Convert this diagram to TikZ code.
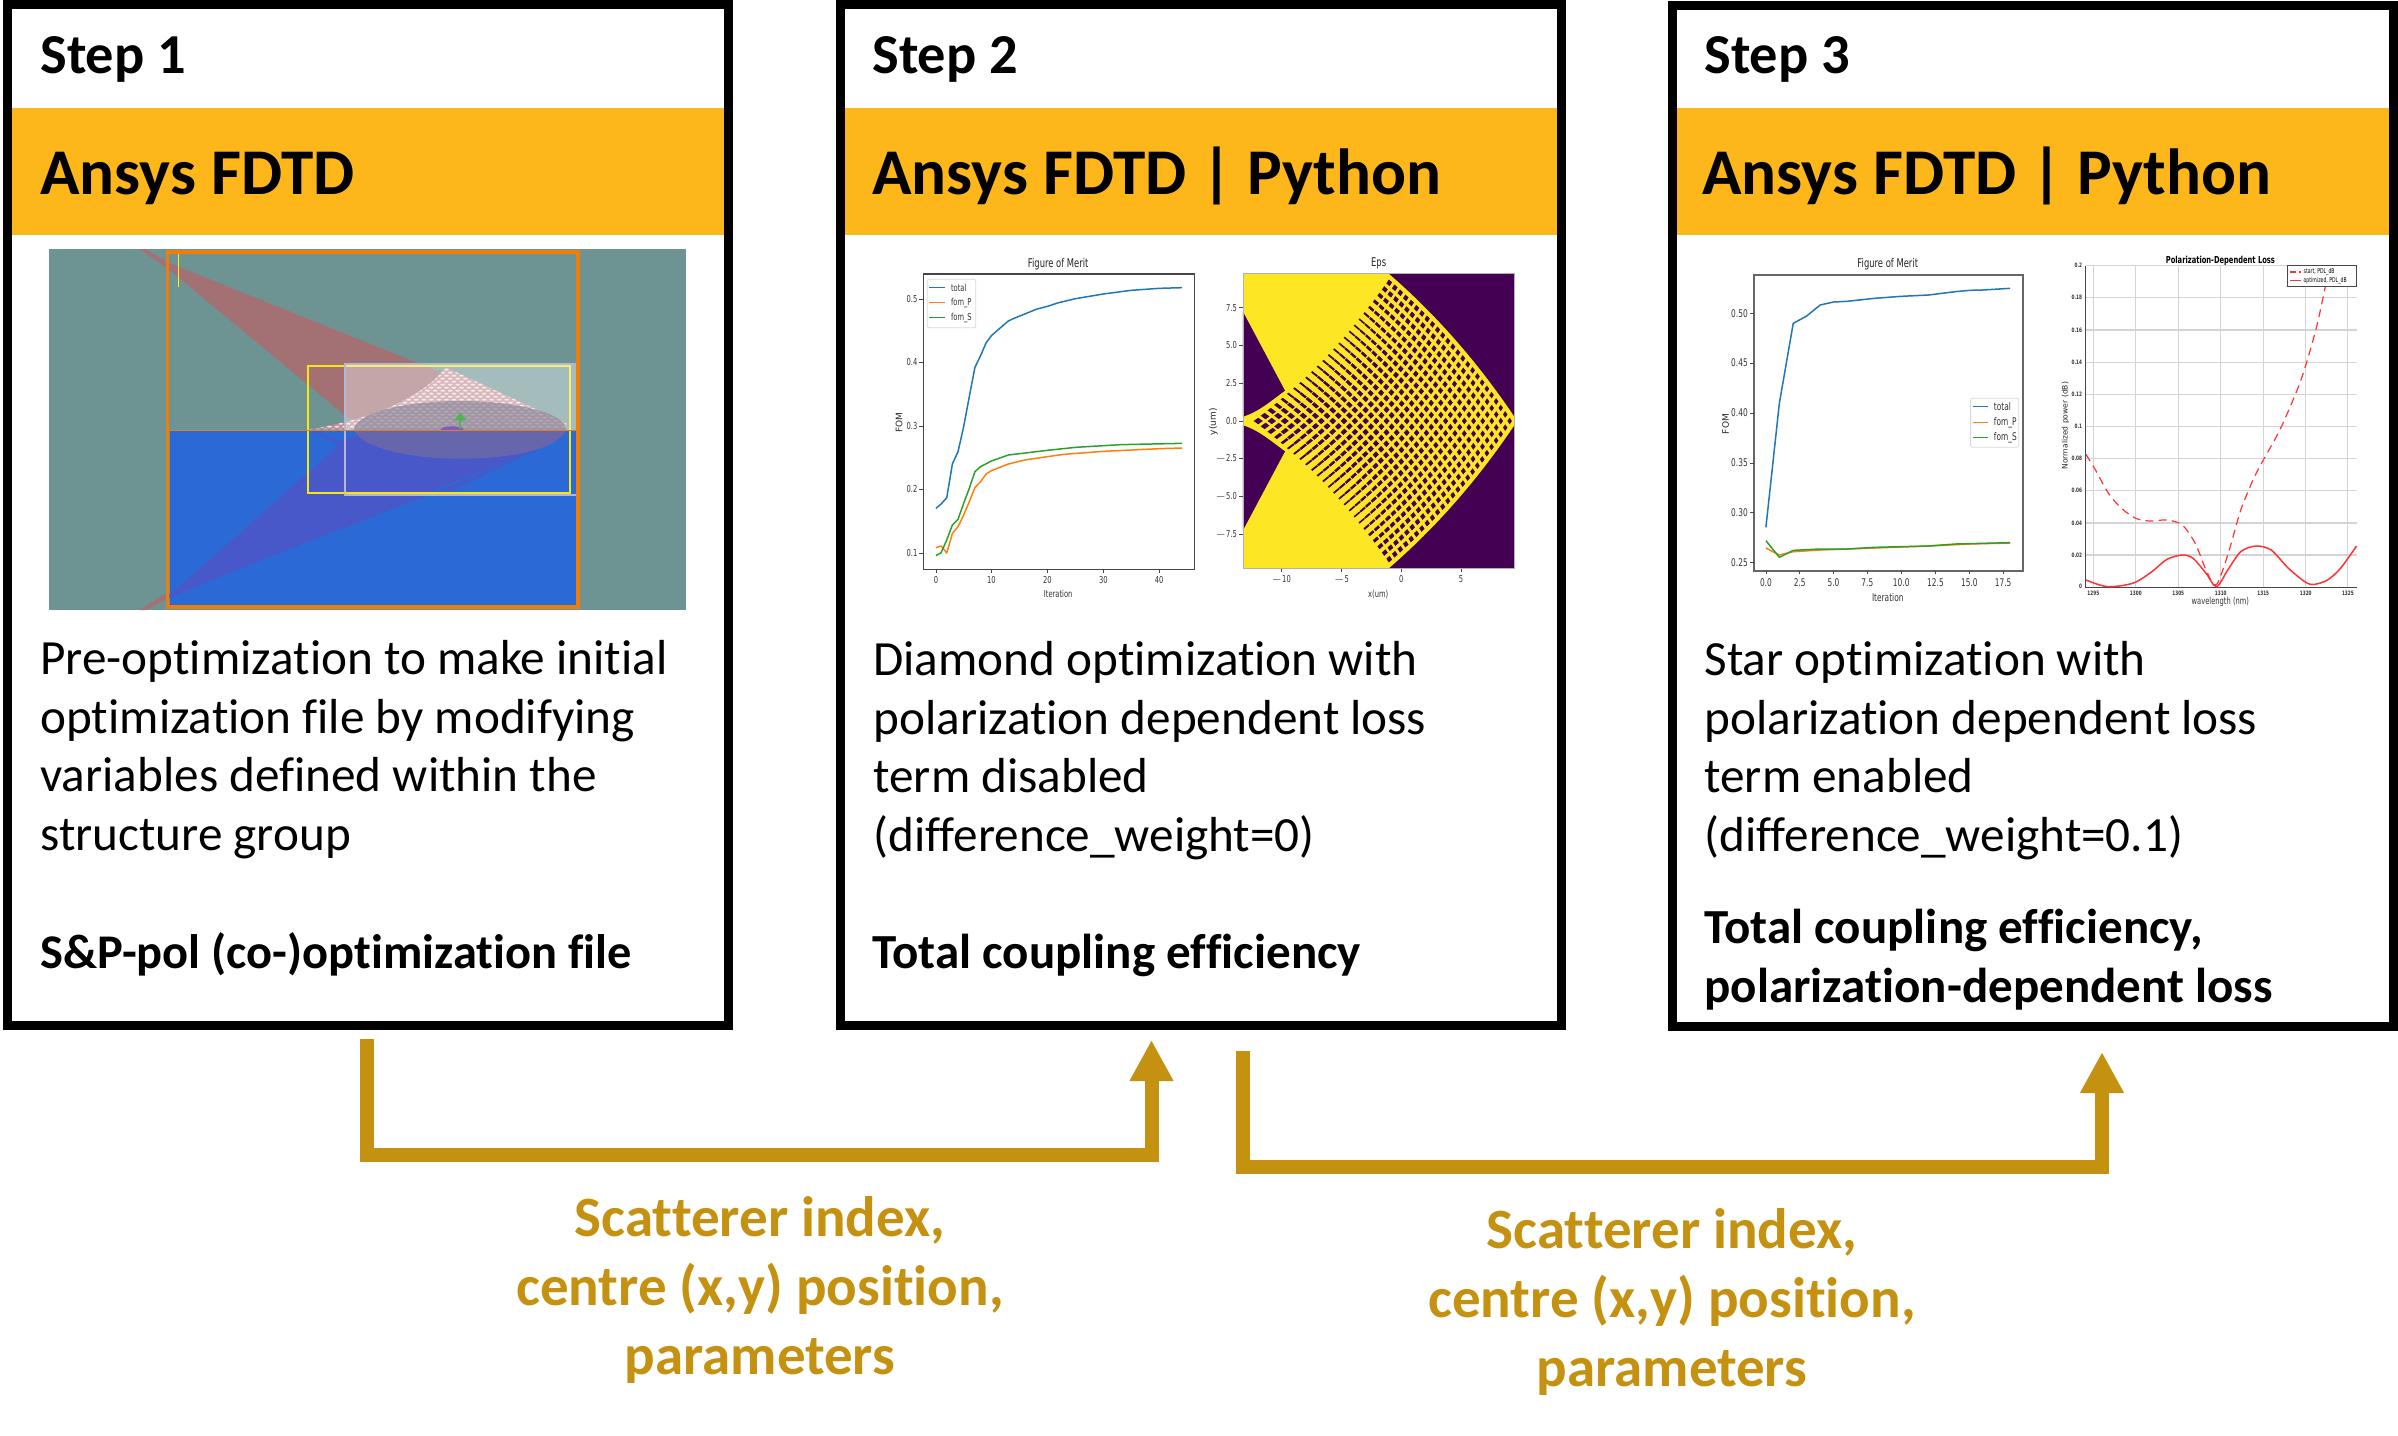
\documentclass[tikz,border=0pt]{standalone}
\usepackage{fontspec}
\setmainfont[Ligatures=NoCommon]{Carlito}
\newfontfamily\chf[FakeStretch=0.7]{DejaVu Sans}
\newfontfamily\rotf{DejaVu Sans}
\usetikzlibrary{arrows.meta}
\definecolor{band}{RGB}{254,183,26}
\definecolor{gold}{RGB}{197,145,16}
\definecolor{scenebg}{RGB}{109,147,147}
\definecolor{sceneblue}{RGB}{43,106,214}
\definecolor{framor}{RGB}{240,125,10}
\definecolor{mplb}{HTML}{1F77B4}
\definecolor{mplo}{HTML}{FF7F0E}
\definecolor{mplg}{HTML}{2CA02C}
\definecolor{epsP}{HTML}{440154}
\definecolor{epsY}{HTML}{FDE725}
\definecolor{axc}{RGB}{70,70,70}
\newcommand{\bodyf}{\fontsize{24.6}{29.3}\selectfont}
\newcommand{\headf}{\fontsize{24.5}{29.3}\selectfont\bfseries}
\newcommand{\headg}{\fontsize{24.2}{29.3}\selectfont\bfseries}
\newcommand{\stepf}{\fontsize{28.2}{34}\selectfont\bfseries}
\newcommand{\bandf}{\fontsize{32.6}{39}\selectfont\bfseries}
\newcommand{\goldf}{\fontsize{28.5}{34.5}\selectfont\bfseries}
\tikzset{
  stepbox/.style={draw=black,line width=4.5pt,minimum width=360.5pt,minimum height=510.5pt,inner sep=0pt,fill=none},
  headtxt/.style={anchor=base west,inner sep=0pt,font=\stepf},
  bandtxt/.style={anchor=base west,inner sep=0pt,font=\bandf},
  bodytxt/.style={anchor=north west,inner sep=0pt,align=left,font=\bodyf},
  boldtxt/.style={anchor=north west,inner sep=0pt,align=left,font=\headf},
  goldtxt/.style={anchor=north,inner sep=0pt,align=center,font=\goldf,text=gold},
  flow/.style={draw=gold,line width=7pt,-{Triangle[length=20.5pt,width=20.5pt]}},
  ax/.style={draw=axc,line width=.6pt},
  tk/.style={draw=axc,line width=.4pt},
  tl/.style={inner sep=0pt,font=\chf\fontsize{4.8}{5}\selectfont,text=black!80},
  tlb/.style={inner sep=0pt,font=\chf\fontsize{5.3}{6}\selectfont,text=black!80},
  tlc/.style={inner sep=0pt,font=\chf\fontsize{3}{4}\selectfont\bfseries,text=black!80},
  ttl/.style={inner sep=0pt,font=\chf\fontsize{6}{7}\selectfont,text=black!85},
  rotl/.style={inner sep=0pt,rotate=90,font=\rotf\fontsize{4.5}{5}\selectfont,text=black!85},
  plotl/.style={line width=.75pt,line join=round},
  zoomA/.style={x=0.23596pt,y=-0.16667pt,shift={(0pt,-110pt)}},
  zoomB/.style={x=0.21683pt,y=-0.16667pt,shift={(430pt,-120pt)}},
  zoomC/.style={x=0.21683pt,y=-0.16667pt,shift={(845pt,-120pt)}},
  declare function={
    epy(\a,\b)=(\b*\b-\a*\a)/134.4;
    epx(\a,\b)=-30.8+sqrt(\a*\a-(epy(\a,\b)-33.6)^2);
    ezx(\a)=1248+27.7*\a;
    ezy(\a)=543-45.3*\a;
    thinf(\p,\q)=max(0,1-\p/8)*min(1,(24-\q)/6)*min(1,\q/5);
  }
}
\begin{document}
\begin{tikzpicture}[x=0.5pt,y=-0.5pt]
\useasboundingbox (0,0) rectangle (2398,1435);
\fill[white] (0,0) rectangle (2398,1435);
% orange bands
\fill[band] (12,108) rectangle (724,235);
\fill[band] (844,108) rectangle (1557,235);
\fill[band] (1677,108) rectangle (2389,235);

% ---- scene of step 1 ----
\begin{scope}[zoomA]
\fill[scenebg] (104,87) rectangle (1454,1170);
\fill[sceneblue] (360,630) rectangle (1222,1160);
% cones
\fill[color={rgb,255:red,163;green,112;blue,116}] (295,87) -- (355,145) -- (730,585) -- (780,630) -- (1195,630) -- (1195,605) -- (360,130) -- (307,87) -- cycle;
\fill[color={rgb,255:red,68;green,90;blue,200}] (355,1130) -- (730,665) -- (655,632) -- (940,825) -- (1195,650) -- (900,830) -- cycle;
\fill[color={rgb,255:red,72;green,88;blue,200}] (355,1135) -- (730,660) -- (780,632) -- (1195,635) -- (1190,655) -- cycle;
\fill[color={rgb,255:red,163;green,112;blue,116}] (295,1170) -- (350,1122) -- (358,1132) -- (310,1170) -- cycle;
% scatterer region
\begin{scope}
\clip (655,628) .. controls (780,600) and (890,540) .. (945,442) -- (1200,610) -- (1200,628) -- cycle;
\fill[color={rgb,255:red,196;green,140;blue,145}] (640,430) rectangle (1210,630);
\foreach \r in {0,...,21}{
  \foreach \c in {0,...,36}{
    \pgfmathsetmacro{\px}{650+\c*16+8*mod(\r,2)}
    \pgfmathsetmacro{\py}{440+\r*9}
    \fill[white,opacity=.75] (\px,\py) ellipse (5 and 3);
  }
}
\end{scope}
\draw[yellow!95!black,line width=.9pt] (652,438) rectangle (1208,820);
% translucent box
\fill[white,opacity=.38] (730,432) rectangle (1222,630);
\fill[color={rgb,255:red,125;green,125;blue,148},opacity=.6] (750,630) arc[start angle=180,end angle=360,x radius=225,y radius=87] -- cycle;
\fill[color={rgb,255:red,102;green,102;blue,172}] (750,630) .. controls (770,690) and (880,716) .. (975,716) .. controls (1080,716) and (1180,690) .. (1200,630) -- cycle;
\fill[color={rgb,255:red,130;green,90;blue,190}] (958,628) ellipse (24 and 9);
\draw[color={rgb,255:red,181;green,181;blue,213},line width=1pt] (730,432) rectangle (1222,825);
\draw[yellow!95!black,line width=.9pt] (730,820) -- (1208,820) (1208,630) -- (1208,820);
\draw[yellow,line width=.7pt] (378,103) -- (378,200);
\draw[framor,line width=1.9pt] (355,96) rectangle (1225,1162);
\draw[framor,line width=.5pt] (355,630) -- (1225,630);
\draw[color={rgb,255:red,80;green,180;blue,80},line width=.8pt,-{Triangle[length=4pt,width=6pt]}] (975,628) -- (975,578);
\end{scope}

% ---- step 2 charts ----
\begin{scope}[zoomB]
\node[ttl] (t2a) at (457,73) {Figure of Merit};
\draw[ax] (146,102) rectangle (771,988);
\foreach \x/\l [count=\n] in {175/0,303/10,432/20,561/30,690/40}{
  \draw[tk] (\x,988) -- (\x,998);
  \node[tl] (xa\n) at (\x,1020) {\l};
}
\foreach \y/\l [count=\n] in {177/0.5,367/0.4,558/0.3,748/0.2,939/0.1}{
  \draw[tk] (146,\y) -- (137,\y);
  \node[tl,anchor=east] (ya\n) at (133,\y) {\l};
}
\node[tl] (xla) at (457,1063) {Iteration};
\node[rotl] (yla) at (90,548) {FOM};
\draw[mplb,plotl] plot coordinates {(175,805)(187,792)(200,773)(213,672)(226,635)(239,560)(252,470)(265,382)(278,347)(291,308)(303,287)(316,272)(342,243)(355,235)(380,222)(406,208)(432,199)(458,188)(497,176)(561,162)(625,151)(690,145)(743,143)};
\draw[mplo,plotl] plot coordinates {(175,923)(187,918)(200,939)(213,880)(226,860)(239,825)(252,785)(265,743)(278,725)(291,702)(303,692)(342,672)(380,660)(432,650)(470,643)(561,634)(690,626)(743,624)};
\draw[mplg,plotl] plot coordinates {(175,947)(187,938)(200,900)(213,855)(226,838)(239,790)(252,745)(265,695)(278,680)(303,663)(342,645)(432,631)(497,622)(600,614)(743,610)};
\draw[black!15,fill=white,line width=.4pt,rounded corners=1pt] (155,118) rectangle (267,263);
\draw[mplb,plotl] (160,143) -- (195,143);
\draw[mplo,plotl] (160,188) -- (195,188);
\draw[mplg,plotl] (160,233) -- (195,233);
\node[tl,anchor=west] (la1) at (209,143) {total};
\node[tl,anchor=west] (la2) at (209,188) {fom\_P};
\node[tl,anchor=west] (la3) at (209,233) {fom\_S};
% Eps map
\node[ttl] (t2b) at (1196,70) {Eps};
\begin{scope}
\clip (883,99) rectangle (1509,986);
\fill[epsY] (883,99) rectangle (1509,986);
\fill[epsP] (883,215) -- (980,452) .. controls (950,480) and (920,515) .. (883,530) -- cycle;
\fill[epsP] (883,871) -- (980,634) .. controls (950,606) and (920,571) .. (883,556) -- cycle;
\fill[epsP] (1509,60) -- (1190,60)
  -- plot[domain=60:40,samples=25] ({ezx(-30.8+52.6*cos(\x))},{ezy(-33.6+52.6*sin(\x))})
  -- plot[domain=-40:-60,samples=25] ({ezx(-30.8+52.6*cos(\x))},{ezy(33.6+52.6*sin(\x))})
  -- (1190,1030) -- (1509,1030) -- cycle;
\foreach \i in {0,...,24}{
  \pgfmathsetmacro{\ra}{38.55+0.565*\i}
  \foreach \j in {0,...,24}{
    \pgfmathsetmacro{\rb}{38.55+0.565*\j}
    \pgfmathsetmacro{\ff}{thinf(\i,\j)}
    \pgfmathsetmacro{\gg}{thinf(\j,\i)}
    \pgfmathsetmacro{\base}{0.33-0.08*(\i+\j)/48}
    \pgfmathsetmacro{\wa}{0.565*(\base+0.17*\ff-0.2*\gg)}
    \pgfmathsetmacro{\wb}{0.565*(\base+0.17*\gg-0.2*\ff)}
    \pgfmathsetmacro{\ap}{\ra-\wa}\pgfmathsetmacro{\aq}{\ra+\wa}
    \pgfmathsetmacro{\bp}{\rb-\wb}\pgfmathsetmacro{\bq}{\rb+\wb}
    \fill[epsP] ({ezx(epx(\ap,\bp))},{ezy(epy(\ap,\bp))}) -- ({ezx(epx(\aq,\bp))},{ezy(epy(\aq,\bp))}) -- ({ezx(epx(\aq,\bq))},{ezy(epy(\aq,\bq))}) -- ({ezx(epx(\ap,\bq))},{ezy(epy(\ap,\bq))}) -- cycle;
  }
}
\end{scope}
\draw[ax,draw=black!30,line width=.3pt] (883,99) rectangle (1509,986);
\foreach \x/\l [count=\n] in {971/$-$10,1110/$-$5,1248/0,1386/5}{
  \draw[tk] (\x,986) -- (\x,996);
  \node[tl] (xb\n) at (\x,1018) {\l};
}
\foreach \y/\l [count=\n] in {203/7.5,316/5.0,429/2.5,543/0.0,656/$-$2.5,769/$-$5.0,883/$-$7.5}{
  \draw[tk] (883,\y) -- (874,\y);
  \node[tl,anchor=east] (yb\n) at (870,\y) {\l};
}
\node[tl] (xlb) at (1195,1062) {x(um)};
\node[rotl] (ylb) at (815,545) {y(um)};
\end{scope}

% ---- step 3 charts ----
\begin{scope}[zoomC]
\node[ttl] (t3a) at (456,74) {Figure of Merit};
\draw[ax,draw=black!60,line width=.9pt] (147,104) rectangle (767,992);
\foreach \x/\l [count=\n] in {175/0.0,253/2.5,331/5.0,409/7.5,487/10.0,566/12.5,644/15.0,722/17.5}{
  \draw[tk] (\x,992) -- (\x,1002);
  \node[tlb] (xc\n) at (\x,1027) {\l};
}
\foreach \y/\l [count=\n] in {220/0.50,369/0.45,519/0.40,669/0.35,818/0.30,968/0.25}{
  \draw[tk] (147,\y) -- (138,\y);
  \node[tlb,anchor=east] (yc\n) at (134,\y) {\l};
}
\node[tlb] (xlc) at (456,1072) {Iteration};
\node[rotl] (ylc) at (82,552) {FOM};
\draw[mplb,plotl] plot coordinates {(175,862)(206,490)(238,250)(269,228)(300,195)(331,186)(362,184)(425,175)(487,169)(550,165)(612,155)(644,151)(675,150)(738,145)};
\draw[mplo,plotl] plot coordinates {(175,924)(206,945)(238,935)(300,930)(425,924)(550,918)(644,912)(738,909)};
\draw[mplg,plotl] plot coordinates {(175,902)(206,952)(238,931)(300,927)(362,927)(425,922)(550,918)(612,912)(738,908)};
\draw[black!15,fill=white,line width=.4pt,rounded corners=1pt] (647,475) rectangle (758,622);
\draw[mplb,plotl] (652,500) -- (688,500);
\draw[mplo,plotl] (652,547) -- (688,547);
\draw[mplg,plotl] (652,593) -- (688,593);
\node[tlb,anchor=west] (lc1) at (700,500) {total};
\node[tlb,anchor=west] (lc2) at (700,547) {fom\_P};
\node[tlb,anchor=west] (lc3) at (700,593) {fom\_S};
% PDL chart
\node[inner sep=0pt,font=\chf\fontsize{4.8}{6}\selectfont\bfseries] (t3b) at (1223,62) {Polarization-Dependent Loss};
\foreach \x in {930,1028,1126,1224,1322,1420,1517}{
  \draw[black!17,line width=.6pt] (\x,77) -- (\x,1041);
}
\foreach \y/\l [count=\n] in {945/0.02,849/0.04,752/0.06,656/0.08,560/0.1,463/0.12,367/0.14,270/0.16,173/0.18,77/0.2}{
  \draw[black!17,line width=.6pt] (913,\y) -- (1537,\y);
  \node[tlc,anchor=east] (yd\n) at (905,\y) {\l};
}
\node[tlc,anchor=east] (yd0) at (905,1039) {0};
\foreach \x/\l [count=\n] in {930/1295,1028/1300,1126/1305,1224/1310,1322/1315,1420/1320,1517/1325}{
  \node[tlc] (xd\n) at (\x,1059) {\l};
}
\draw[ax,line width=.5pt] (913,77) -- (913,1041) -- (1537,1041);
\node[tl] (xld) at (1223,1085) {wavelength (nm)};
\node[rotl,font=\rotf\fontsize{3.8}{5}\selectfont] (yld) at (866,557) {Normalized power (dB)};
\draw[red!80!white,line width=.6pt,dash pattern=on 4pt off 2.6pt] plot[smooth] coordinates {(913,643)(935,690)(965,760)(995,805)(1028,835)(1060,843)(1100,840)(1135,855)(1165,910)(1190,990)(1213,1035)(1240,945)(1270,810)(1300,715)(1322,660)(1360,570)(1400,450)(1420,375)(1445,260)(1465,140)};
\draw[red!80!white,line width=.75pt] plot[smooth] coordinates {(913,1020)(940,1033)(965,1040)(1000,1036)(1030,1025)(1065,995)(1100,958)(1135,945)(1160,955)(1190,1000)(1214,1040)(1240,990)(1270,935)(1305,918)(1340,930)(1380,985)(1420,1027)(1440,1033)(1470,1020)(1500,985)(1537,918)};
\draw[axc,fill=white,line width=.5pt] (1378,77) rectangle (1536,139);
\draw[red!80!white,line width=.6pt,dash pattern=on 3pt off 1.6pt] (1384,96) -- (1410,96);
\draw[red!80!white,line width=.75pt] (1384,122) -- (1410,122);
\node[inner sep=0pt,anchor=west,font=\chf\fontsize{3.3}{4}\selectfont] (ld1) at (1414,96) {start, PDL\_dB};
\node[inner sep=0pt,anchor=west,font=\chf\fontsize{3.3}{4}\selectfont] (ld2) at (1414,122) {optimized, PDL\_dB};
\end{scope}

% frames
\node[stepbox] (box1) at (368,515) {};
\node[stepbox] (box2) at (1200.5,515) {};
\node[stepbox] (box3) at (2033,515.5) {};

% texts
\node[headtxt] (s1) at (40,73) {Step 1};
\node[headtxt] (s2) at (872,73) {Step 2};
\node[headtxt] (s3) at (1704,73) {Step 3};
\node[bandtxt] (a1) at (40,194) {Ansys FDTD};
\node[bandtxt] (a2) at (872,194) {Ansys FDTD | Python};
\node[bandtxt] (a3) at (1702,194) {Ansys FDTD | Python};
\node[bodytxt] (b1) at (40,640) {Pre-optimization to make initial\\optimization file by modifying\\variables defined within the\\structure group};
\node[bodytxt] (b2) at (873,641) {Diamond optimization with\\polarization dependent loss\\term disabled\\(difference\_weight=0)};
\node[bodytxt] (b3) at (1704,641) {Star optimization with\\polarization dependent loss\\term enabled\\(difference\_weight=0.1)};
\node[boldtxt,font=\headg] (c1) at (40,932) {S\&P-pol (co-)optimization file};
\node[boldtxt] (c2) at (872,934) {Total coupling efficiency};
\node[boldtxt] (c3) at (1704,909) {Total coupling efficiency,\\polarization-dependent loss};

% connectors
\coordinate (f1s) at (367,1039);
\coordinate (f1c) at (367,1155);
\coordinate (f1e) at (1151.5,1040);
\coordinate (f2s) at (1243,1051);
\coordinate (f2c) at (1243,1167);
\coordinate (f2e) at (2102,1052);
\draw[flow] (f1s) -- (f1c) -- (f1c -| f1e) -- (f1e);
\draw[flow] (f2s) -- (f2c) -- (f2c -| f2e) -- (f2e);
\node[goldtxt] (g1) at (760,1196) {Scatterer index,\\centre (x,y) position,\\parameters};
\node[goldtxt] (g2) at (1672,1208) {Scatterer index,\\centre (x,y) position,\\parameters};
\end{tikzpicture}
\end{document}
